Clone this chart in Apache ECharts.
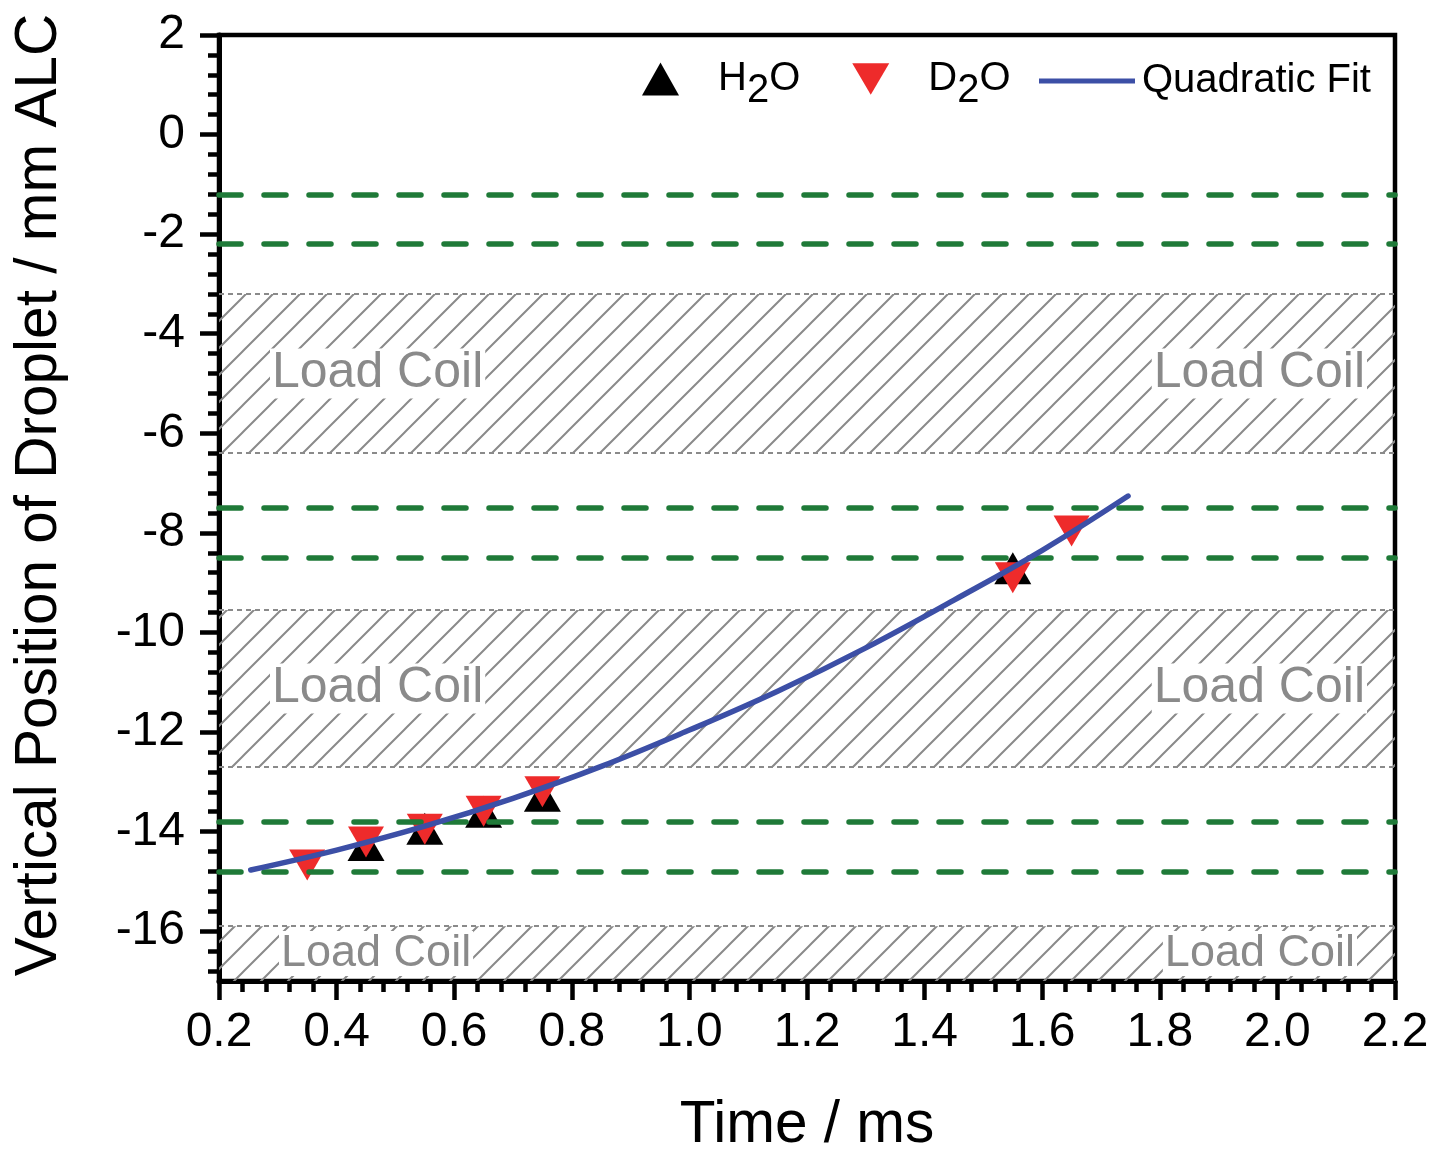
<!DOCTYPE html>
<html><head><meta charset="utf-8">
<script src="https://cdn.jsdelivr.net/npm/echarts@6/dist/echarts.min.js"></script>
<style>html,body{margin:0;padding:0;background:#fff}#c{width:1437px;height:1154px}</style>
</head><body><div id="c"></div>
<script>
// ---- data ----
const h2oX = [0.45, 0.55, 0.65, 0.75, 1.55];
const h2oY = [-14.27, -13.94, -13.6, -13.28, -8.71];
const d2oX = [0.35, 0.45, 0.55, 0.65, 0.75, 1.55, 1.65];
const d2oY = [-14.67, -14.21, -13.95, -13.59, -13.2, -8.9, -7.96];
const fitX = [0.254, 0.4, 0.55, 0.7, 0.85, 1.0, 1.15, 1.3, 1.45, 1.6, 1.746];
const fitY = [-14.77, -14.37, -13.89, -13.33, -12.69, -11.96, -11.18, -10.31, -9.35, -8.35, -7.26];
const greenLines = [-1.2, -2.2, -7.5, -8.5, -13.8, -14.8];
const coilBands = [[-3.2, -6.4], [-9.55, -12.7], [-15.9, -17]];
const yMajorTicks = [2, 0, -2, -4, -6, -8, -10, -12, -14, -16];
const xTickLabels = ['0.2','0.4','0.6','0.8','1.0','1.2','1.4','1.6','1.8','2.0','2.2'];
const seriesNames = ['H2O', 'D2O', 'Quadratic Fit'];

const yMinor = [];
for (let i = 0; i <= 47; i++) yMinor.push(+(2 - i * 0.4).toFixed(2));

function hatch() {
  const s = 27;
  const c = document.createElement('canvas');
  c.width = s; c.height = s;
  const g = c.getContext('2d');
  g.strokeStyle = '#8a8a8a';
  g.lineWidth = 2;
  g.beginPath();
  g.moveTo(-2, s + 2); g.lineTo(s + 2, -2);
  g.moveTo(-6, 6); g.lineTo(6, -6);
  g.moveTo(s - 6, s + 6); g.lineTo(s + 6, s - 6);
  g.stroke();
  return c;
}
const pat = { image: hatch(), repeat: 'repeat' };

const FONT = "'Liberation Sans', Arial, sans-serif";
const coilLabel = (pos, dist, size) => ({
  show: true, position: pos, distance: dist, formatter: 'Load Coil',
  color: '#8a8a8a', fontSize: size, fontFamily: FONT,
  backgroundColor: '#fff', padding: [0, 2]
});
const areaData = [];
coilBands.forEach((b, i) => {
  const sz = i === 2 ? 45 : 50;
  areaData.push([{ xAxis: 0.2, yAxis: b[0], label: coilLabel('insideLeft', i === 2 ? 60 : 51, sz) }, { xAxis: 1.2, yAxis: b[1] }]);
  areaData.push([{ xAxis: 1.2, yAxis: b[0], label: coilLabel('insideRight', i === 2 ? 38 : 28, sz) }, { xAxis: 2.2, yAxis: b[1] }]);
});
const grayLines = [];
coilBands.forEach(b => { grayLines.push(b[0]); if (b[1] > -17) grayLines.push(b[1]); });

const rich = {
  n: { fontSize: 40, fontFamily: FONT, color: '#000' },
  s: { fontSize: 40, fontFamily: FONT, color: '#000', padding: [24, 0, 0, 0] }
};
const legendFmt = n => n === 'H2O' ? '{n|H}{s|2}{n|O}' : n === 'D2O' ? '{n|D}{s|2}{n|O}' : n;

const chart = echarts.init(document.getElementById('c'), null, { renderer: 'canvas' });
chart.setOption({
  animation: false,
  textStyle: { fontFamily: FONT },
  grid: { left: 219, right: 42, top: 35, bottom: 173, outerBoundsMode: 'none', containLabel: false,
    show: true, borderColor: '#000', borderWidth: 4.5, backgroundColor: 'transparent' },
  legend: [
    { data: [seriesNames[0], seriesNames[1]], left: 637, top: 54, itemWidth: 37, itemHeight: 33, itemGap: 52,
      formatter: legendFmt, textStyle: { fontSize: 40, color: '#000', padding: [0, 0, 0, 34], rich: rich } },
    { data: [{ name: seriesNames[2], icon: 'rect' }], left: 1034, top: 56, itemWidth: 96, itemHeight: 5,
      textStyle: { fontSize: 40, color: '#000', fontFamily: FONT, padding: [0, 0, 0, 2] } }
  ],
  xAxis: {
    type: 'value', min: 0.2, max: 2.2, interval: 0.2,
    name: 'Time / ms', nameLocation: 'middle', nameGap: 115,
    nameTextStyle: { fontSize: 58.5, color: '#000', fontFamily: FONT },
    axisLine: { onZero: false, lineStyle: { color: '#000', width: 5 } },
    axisTick: { length: 19, lineStyle: { color: '#000', width: 4.5 } },
    minorTick: { show: true, splitNumber: 5, length: 11, lineStyle: { color: '#000', width: 4.5 } },
    axisLabel: { fontSize: 48, color: '#000', margin: 28, fontFamily: FONT,
      formatter: v => xTickLabels[Math.round((v - 0.2) / 0.2)] },
    splitLine: { show: false }
  },
  yAxis: [{
    type: 'value', min: -17, max: 2,
    name: 'Vertical Position of Droplet / mm ALC', nameLocation: 'middle', nameGap: 150,
    nameTextStyle: { fontSize: 58.5, color: '#000', fontFamily: FONT, padding: [0, 0, 0, 26] },
    axisLine: { onZero: false, lineStyle: { color: '#000', width: 5 } },
    axisTick: { length: 19, customValues: yMajorTicks, lineStyle: { color: '#000', width: 4.5 } },
    axisLabel: { fontSize: 48, color: '#000', margin: 34, fontFamily: FONT, customValues: yMajorTicks },
    splitLine: { show: false }
  }, {
    type: 'value', min: -17, max: 2, position: 'left', offset: 0,
    axisLine: { show: false, onZero: false },
    axisTick: { show: true, length: 11, customValues: yMinor, lineStyle: { color: '#000', width: 4.5 } },
    axisLabel: { show: false },
    splitLine: { show: false }
  }],
  series: [
    { type: 'scatter', name: '_coil', data: [], z: 1, silent: true,
      markArea: { silent: true, itemStyle: { color: pat, borderWidth: 0 }, data: areaData },
      markLine: { silent: true, symbol: 'none', label: { show: false },
        lineStyle: { color: '#8a8a8a', width: 1.8, type: [5, 4] },
        data: grayLines.map(v => ({ yAxis: v })) } },
    { type: 'scatter', name: '_green', data: [], z: 2, silent: true,
      markLine: { silent: true, symbol: 'none', label: { show: false },
        lineStyle: { color: '#1f7a38', width: 5.5, type: [22, 23], cap: 'round' },
        data: greenLines.map(v => ({ yAxis: v })) } },
    { type: 'scatter', name: seriesNames[0], z: 3, symbol: 'triangle', symbolSize: [37, 32],
      itemStyle: { color: '#000', opacity: 1 }, data: h2oX.map((x, i) => [x, h2oY[i]]) },
    { type: 'scatter', name: seriesNames[1], z: 4, symbol: 'path://M0,0L20,0L10,17Z', symbolSize: [36, 31],
      itemStyle: { color: '#ee2b2b', opacity: 1 }, data: d2oX.map((x, i) => [x, d2oY[i]]) },
    { type: 'line', name: seriesNames[2], z: 5, smooth: 0.4, showSymbol: false, symbol: 'none',
      lineStyle: { color: '#3c4fa6', width: 5.5, cap: 'round' }, itemStyle: { color: '#3c4fa6' },
      data: fitX.map((x, i) => [x, fitY[i]]) }
  ]
});
</script>
</body></html>
